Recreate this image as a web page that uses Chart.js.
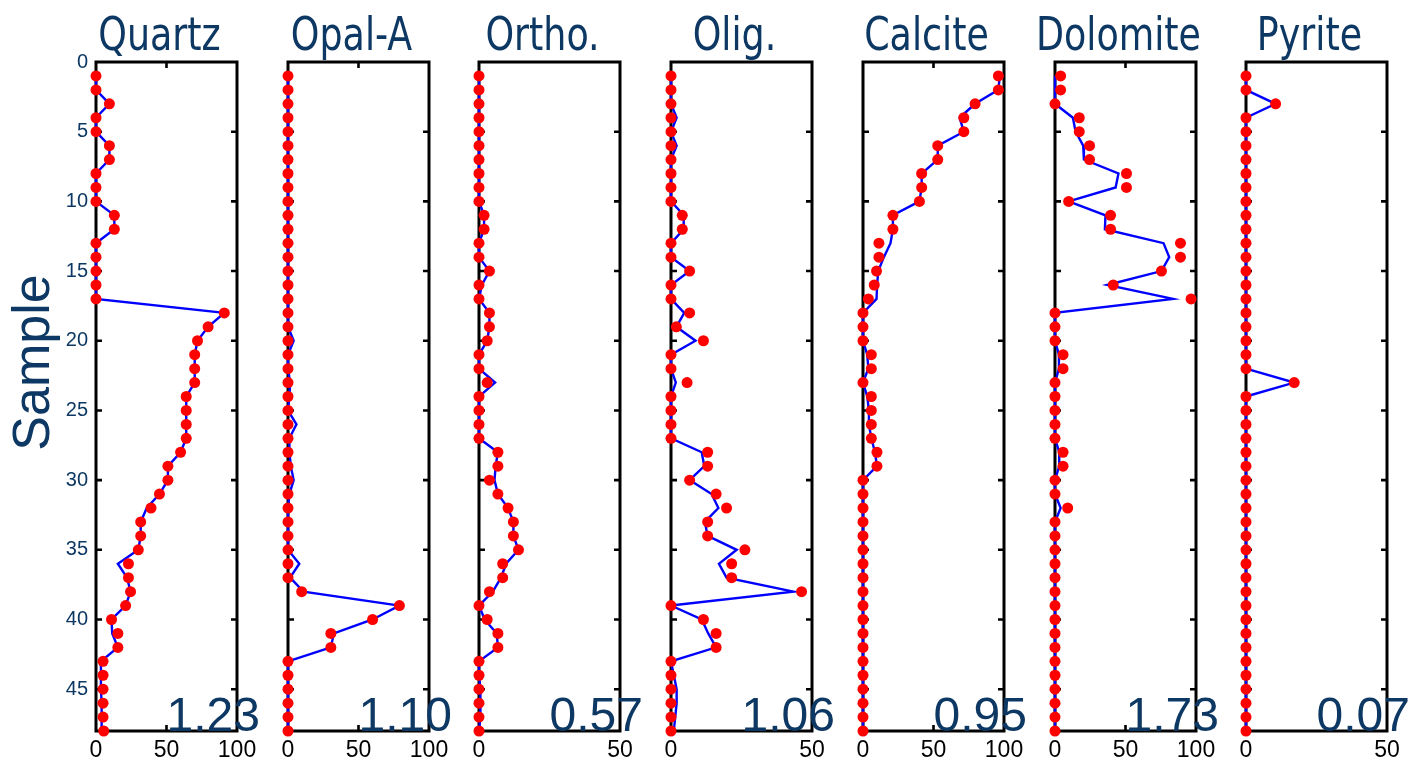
<!DOCTYPE html>
<html><head><meta charset="utf-8">
<script src="https://cdn.jsdelivr.net/npm/chart.js@4.4.1/dist/chart.umd.min.js"></script>
<style>
html,body{margin:0;padding:0;background:#fff;}
#wrap{position:relative;width:1410px;height:768px;overflow:hidden;background:#fff;}
#wrap canvas{position:absolute;top:0;}
</style></head><body><div id="wrap"></div>
<script>
const samples = [1,2,3,4,5,6,7,8,9,10,11,12,13,14,15,16,17,18,19,20,21,22,23,24,25,26,27,28,29,30,31,32,33,34,35,36,37,38,39,40,41,42,43,44,45,46,47,48];
const minerals = ['Quartz','Opal-A','Ortho.','Olig.','Calcite','Dolomite','Pyrite'];
const xMaxes = [100,100,50,50,100,100,50];
const scores = ['1.23','1.10','0.57','1.06','0.95','1.73','0.07'];
const yTicks = [0,5,10,15,20,25,30,35,40,45];

const quartzDots = [0,0,9.5,0,0,9.5,9.5,0,0,0, 13,13,0,0,0,0,0,91,79.5,72, 70,70,70,64,64,64,64,60,51,51, 45,39,31.7,31.7,30,23,23,24.5,21,11, 15.5,15.5,5,5,5,5,5,5.5];
const quartzLine = [0,0,9.5,0,0,9.5,9.5,0,0,0, 13,13,0,0,0,0,0,91,79.5,72, 70,70,70,64,64,64,64,60,51,51, 45,36,31.7,31.7,30,15.5,22,24.5,21,11, 11.5,15.5,3.5,3.5,3.5,4,4,4];
const opalDots = [0,0,0,0,0,0,0,0,0,0, 0,0,0,0,0,0,0,0,0,0, 0,0,0,0,0,0,0,0,0,0, 0,0,0,0,0,0,0,9.7,79,60, 30.4,30.4,0,0,0,0,0,0];
const opalLine = [0,0,0,0,0,0,0,0,0,0, 0,0,0,0,0,0,0,0,0,4, 0,0,1.5,1,0,6,1,1,2,4, 1,0,0,0,0,8,1.5,11,79,60, 32.5,30.4,0,0,0,0,0,0];
const orthoDots = [0,0,0,0,0,0,0,0,0,0, 1.8,1.8,0,0,3.7,0,0,3.7,3.7,2.9, 0,0,2.9,0,0,0,0,6.7,6.7,3.7, 6.7,10.3,12.2,12.2,14,8.4,8.4,3.7,0,2.9, 6.7,6.7,0,0,0,0,0,0];
const orthoLine = [0,0,0,0,0,0,0,0,0,0, 1.8,1.8,0,0,3.7,1,0,3.7,3.7,2.9, 0,0,5.7,0,0,0,0,6.7,5.9,5.5, 6.7,10.3,12.2,12.2,14,9.6,7.8,4.9,0,2, 6.3,6.7,0,0,0.5,0.5,0.5,0];
const oligDots = [0,0,0,0,0,0,0,0,0,0, 4,4,0,0,6.6,0,0,6.6,1.9,11.5, 0,0,5.7,0,0,0,0,13,13,6.6, 16,19.7,13,13,26.2,21.5,21.5,46.3,0,11.5, 16,16,0,0,0,0,0,0];
const oligLine = [0,0,0,2,0,2,0,0,0,0, 4.5,4.5,0,0,6.6,0,0,4.7,1.9,8.7, 0,0,1.7,0,0,0,0,10.9,11.8,6.6, 14.4,16.8,12,13,23.3,17,19.7,43.4,0,10.9, 13.2,16,0,1,2,2,1.5,1];
const calciteDots = [96,96,79.5,71.5,71.5,53,53,41.6,41.6,40, 21.2,21.2,11.3,11.3,9.6,8,3.8,0,0,0, 5.9,5.9,0,5.9,5.9,5.9,5.9,9.9,9.9,0, 0,0,0,0,0,0,0,0,0,0, 0,0,0,0,0,0,0,0];
const calciteLine = [97,96,79.5,68.5,71.5,53,53,41.6,41.6,40, 21.2,21.2,19.5,14.8,10.8,10,9.6,0,0,0, 3,3.8,0,3,4.2,4.2,5.9,8.5,9.9,0, 0,0,0,0,0,0,0,0,0,0, 0,0,0,0,0,0,0,0];
const dolomiteDots = [4,4,0,17.2,17.2,24.5,24.5,50.7,50.7,9.7, 39.4,39.4,89,89,75.5,41.3,96.5,0,0,0, 5.7,5.7,0,0,0,0,0,5.7,5.7,0, 0,9,0,0,0,0,0,0,0,0, 0,0,0,0,0,0,0,0];
const dolomiteLine = [0,0,0,12.7,14.6,20,20.5,45,43,9.7, 35.8,35.4,77,81,75.5,37,83.7,0,0,0, 2.8,2.8,0,0,0,0,0,3,3,0, 0,4,0,0,0,0,0,0,0,0, 0,0,0,0,0,0,0,0];
const pyriteDots = [0,0,10.5,0,0,0,0,0,0,0, 0,0,0,0,0,0,0,0,0,0, 0,0,17.1,0,0,0,0,0,0,0, 0,0,0,0,0,0,0,0,0,0, 0,0,0,0,0,0,0,0];
const pyriteLine = [0,0,10.5,0,0,0,0,0,0,0, 0,0,0,0,0,0,0,0,0,0, 0,0,17.1,0,0,0,0,0,0,0, 0,0,0,0,0,0,0,0,0,0, 0,0,0,0,0,0,0,0];

const dotSeries = [quartzDots, opalDots, orthoDots, oligDots, calciteDots, dolomiteDots, pyriteDots];
const lineSeries = [quartzLine, opalLine, orthoLine, oligLine, calciteLine, dolomiteLine, pyriteLine];

const NAVY = '#0d3863';
const SANS = "'Liberation Sans', Arial, sans-serif";
const NARROW = "'Liberation Sans Narrow', 'DejaVu Sans Condensed', 'Arial Narrow', sans-serif";

const framePlugin = {
  id: 'frame',
  beforeDatasetsDraw(chart) {
    const {ctx, chartArea: a, scales: {x, y}} = chart;
    ctx.save();
    ctx.strokeStyle = '#000';
    ctx.lineWidth = 3;
    ctx.strokeRect(a.left, a.top, a.right - a.left, a.bottom - a.top);
    ctx.lineWidth = 2.6;
    ctx.beginPath();
    yTicks.forEach(v => {
      if (v <= y.min) return;
      const py = y.getPixelForValue(v);
      ctx.moveTo(a.left, py); ctx.lineTo(a.left + 6, py);
      ctx.moveTo(a.right, py); ctx.lineTo(a.right - 6, py);
    });
    x.ticks.forEach(t => {
      if (t.value <= x.min || t.value >= x.max) return;
      const px = x.getPixelForValue(t.value);
      ctx.moveTo(px, a.top); ctx.lineTo(px, a.top + 6);
      ctx.moveTo(px, a.bottom); ctx.lineTo(px, a.bottom - 6);
    });
    ctx.stroke();
    ctx.restore();
  },
  afterDraw(chart, args, opts) {
    const {ctx, chartArea: a, scales: {x, y}} = chart;
    ctx.save();
    ctx.fillStyle = NAVY;
    // panel title (condensed look)
    ctx.save();
    ctx.translate((a.left + a.right) / 2 - 7, 50);
    ctx.scale(0.88, 1);
    ctx.font = '46px ' + NARROW;
    ctx.textAlign = 'center';
    ctx.textBaseline = 'alphabetic';
    ctx.fillText(opts.title, 0, 0);
    ctx.restore();
    // score text
    ctx.font = '48px ' + SANS;
    ctx.textAlign = 'left';
    ctx.textBaseline = 'alphabetic';
    ctx.fillText(opts.score, x.getPixelForValue((x.min + x.max) / 2), y.getPixelForValue(y.max));
    if (opts.ylabel) {
      ctx.translate(35, (a.top + a.bottom) / 2 - 34);
      ctx.rotate(-Math.PI / 2);
      ctx.font = '52px ' + SANS;
      ctx.textAlign = 'center';
      ctx.textBaseline = 'middle';
      ctx.fillText(opts.ylabel, 0, 0);
    }
    ctx.restore();
  }
};

const wrap = document.getElementById('wrap');
const plotW = 141;
const pitch = 191.7;
const firstLeft = 96;
const sideMargin = 45;

minerals.forEach((name, i) => {
  const plotLeft = Math.round(firstLeft + i * pitch);
  const padL = i === 0 ? 0 : sideMargin;
  const axisW = i === 0 ? firstLeft : 0;
  const canvasLeft = i === 0 ? 0 : plotLeft - sideMargin;
  const cw = (i === 0 ? firstLeft : sideMargin) + plotW + sideMargin;
  const cv = document.createElement('canvas');
  cv.width = cw; cv.height = 768;
  cv.style.left = canvasLeft + 'px';
  cv.style.width = cw + 'px'; cv.style.height = '768px';
  wrap.appendChild(cv);

  new Chart(cv, {
    type: 'scatter',
    data: {
      datasets: [
        {
          data: dotSeries[i].map((v, k) => ({x: v, y: samples[k]})),
          showLine: false,
          pointRadius: 5.5,
          pointHoverRadius: 5.5,
          pointBackgroundColor: '#ff0000',
          pointBorderWidth: 0,
          borderColor: '#ff0000',
          order: 0,
          clip: false
        },
        {
          data: lineSeries[i].map((v, k) => ({x: v, y: samples[k]})),
          showLine: true,
          borderColor: '#0000ff',
          borderWidth: 2.4,
          pointRadius: 0,
          pointHoverRadius: 0,
          tension: 0,
          order: 1,
          clip: false
        }
      ]
    },
    options: {
      responsive: false,
      animation: false,
      devicePixelRatio: 1,
      events: [],
      layout: {padding: {left: padL, right: sideMargin, top: 62, bottom: 0}},
      plugins: {
        legend: {display: false},
        tooltip: {enabled: false},
        title: {display: false},
        frame: {title: name, score: scores[i], ylabel: i === 0 ? 'Sample' : null}
      },
      scales: {
        x: {
          type: 'linear', position: 'bottom', min: 0, max: xMaxes[i],
          ticks: {stepSize: 50, color: '#000', font: {family: SANS, size: 23}, padding: 6, maxRotation: 0, autoSkip: false},
          grid: {display: false, drawTicks: false},
          border: {display: false},
          afterFit(s) { s.height = 37; }
        },
        y: {
          type: 'linear', position: 'left', reverse: true, min: 0, max: 48,
          display: i === 0,
          ticks: {stepSize: 5, includeBounds: false, color: NAVY, font: {family: SANS, size: 20}, padding: 8},
          grid: {display: false, drawTicks: false},
          border: {display: false},
          afterFit(s) { s.width = axisW; }
        }
      }
    },
    plugins: [framePlugin]
  });
});
</script></body></html>
